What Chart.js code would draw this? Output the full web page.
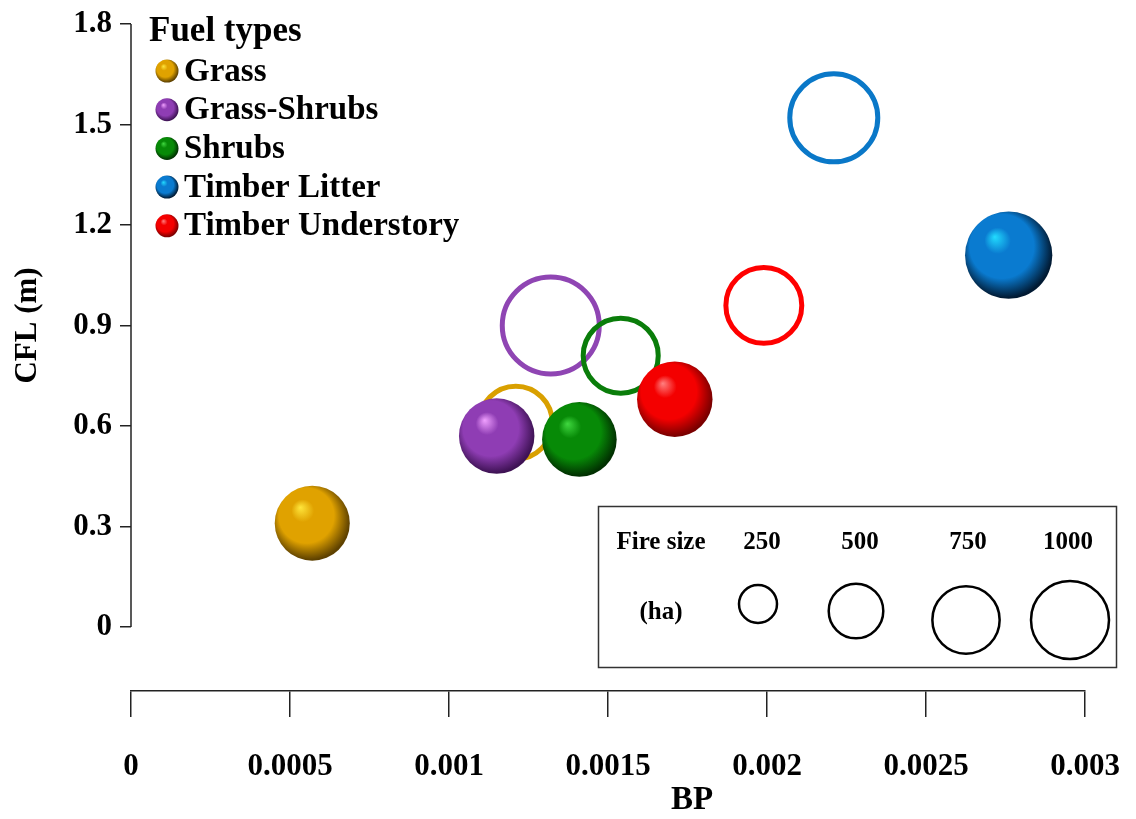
<!DOCTYPE html>
<html>
<head>
<meta charset="utf-8">
<title>CFL vs BP by fuel type</title>
<script src="https://cdn.jsdelivr.net/npm/chart.js@4.4.0/dist/chart.umd.min.js"></script>
<style>
  html, body { margin: 0; padding: 0; background: #fff; }
  canvas { display: block; }
</style>
</head>
<body>
<canvas id="chart" width="1136" height="819"></canvas>
<script>
const fuelTypes = ['Grass', 'Grass-Shrubs', 'Shrubs', 'Timber Litter', 'Timber Understory'];

// solid spheres
const bpSolid = [0.00057, 0.00115, 0.00141, 0.00276, 0.00171];
const cflSolid = [0.31, 0.57, 0.56, 1.11, 0.68];
const haSolid = [880, 890, 870, 1190, 890];

// open rings
const bpOpen = [0.00121, 0.00132, 0.00154, 0.00221, 0.00199];
const cflOpen = [0.61, 0.90, 0.81, 1.52, 0.96];
const haOpen = [830, 1470, 880, 1210, 900];

const xTicks = [0, 0.0005, 0.001, 0.0015, 0.002, 0.0025, 0.003];
const xTickLabels = ['0', '0.0005', '0.001', '0.0015', '0.002', '0.0025', '0.003'];
const yTicks = [0, 0.3, 0.6, 0.9, 1.2, 1.5, 1.8];
const yTickLabels = ['0', '0.3', '0.6', '0.9', '1.2', '1.5', '1.8'];
const sizeKey = [250, 500, 750, 1000];

const shades = {
  'Grass':             { light: '#ffe63c', base: '#e0a200', dark: '#5e4100', ring: '#d9a000' },
  'Grass-Shrubs':      { light: '#f0a0ff', base: '#8f3db4', dark: '#3e1254', ring: '#8f45b3' },
  'Shrubs':            { light: '#40d840', base: '#078a07', dark: '#013001', ring: '#0a7d0a' },
  'Timber Litter':     { light: '#22dcff', base: '#0a7bd0', dark: '#011a33', ring: '#0a78c8' },
  'Timber Understory': { light: '#ff8080', base: '#f40000', dark: '#7a0000', ring: '#ff0000' }
};

const FONT = '"Liberation Serif", "Times New Roman", serif';
const radiusFor = ha => 1.265 * Math.sqrt(ha);

function sphereFill(ctx, cx, cy, r, s) {
  if (![cx, cy, r].every(Number.isFinite) || r <= 0) return s.base;
  const g = ctx.createRadialGradient(cx - r * 0.32, cy - r * 0.42, 0, cx - r * 0.08, cy - r * 0.1, r * 1.08);
  g.addColorStop(0, s.light);
  g.addColorStop(0.28, s.base);
  g.addColorStop(0.68, s.base);
  g.addColorStop(1, s.dark);
  return g;
}

const solidPoints = fuelTypes.map((f, i) => ({ x: bpSolid[i], y: cflSolid[i], r: radiusFor(haSolid[i]) }));
const openPoints = fuelTypes.map((f, i) => ({ x: bpOpen[i], y: cflOpen[i], r: radiusFor(haOpen[i]) }));

const extras = {
  id: 'extras',
  beforeDatasetsDraw(chart) {
    const { ctx, chartArea, scales } = chart;
    ctx.save();
    // y axis line only spans 0..1.8
    ctx.strokeStyle = '#222';
    ctx.lineWidth = 1.5;
    ctx.beginPath();
    ctx.moveTo(chartArea.left, scales.y.getPixelForValue(yTicks[yTicks.length - 1]));
    ctx.lineTo(chartArea.left, scales.y.getPixelForValue(yTicks[0]));
    ctx.stroke();

    ctx.fillStyle = '#000';
    ctx.textAlign = 'center';
    ctx.textBaseline = 'middle';
    ctx.font = 'bold 33px ' + FONT;
    ctx.fillText('BP', 692, 800);

    ctx.translate(28, scales.y.getPixelForValue(0.9));
    ctx.rotate(-Math.PI / 2);
    ctx.font = 'bold 31px ' + FONT;
    ctx.fillText('CFL (m)', 0, 0);
    ctx.restore();
  },
  afterDraw(chart) {
    const ctx = chart.ctx;
    ctx.save();
    // fuel type legend
    ctx.fillStyle = '#000';
    ctx.textAlign = 'left';
    ctx.textBaseline = 'alphabetic';
    ctx.font = 'bold 35px ' + FONT;
    ctx.fillText('Fuel types', 149, 41);
    ctx.font = 'bold 33px ' + FONT;
    ctx.textBaseline = 'middle';
    fuelTypes.forEach((name, i) => {
      const cy = 71 + i * 38.7;
      ctx.beginPath();
      ctx.arc(167, cy, 11.5, 0, Math.PI * 2);
      ctx.fillStyle = sphereFill(ctx, 167, cy, 11.5, shades[name]);
      ctx.fill();
      ctx.fillStyle = '#000';
      ctx.fillText(name, 184, cy + 1);
    });

    // fire size key
    ctx.strokeStyle = '#333';
    ctx.lineWidth = 1.5;
    ctx.strokeRect(598.5, 506.5, 518, 161);
    ctx.textAlign = 'center';
    ctx.font = 'bold 25px ' + FONT;
    ctx.fillStyle = '#000';
    ctx.fillText('Fire size', 661, 543);
    ctx.fillText('(ha)', 661, 613);
    const labelX = [762, 860, 968, 1068];
    const ringX = [758, 856, 966, 1070];
    const ringY = [604, 611, 620, 620];
    ctx.strokeStyle = '#000';
    ctx.lineWidth = 2.5;
    sizeKey.forEach((ha, i) => {
      ctx.fillText(String(ha), labelX[i], 543);
      ctx.beginPath();
      ctx.arc(ringX[i], ringY[i], radiusFor(ha) - 1, 0, Math.PI * 2);
      ctx.stroke();
    });
    ctx.restore();
  }
};

const tickFont = { family: FONT, size: 31, weight: 'bold' };

new Chart(document.getElementById('chart'), {
  type: 'bubble',
  data: {
    datasets: [
      {
        label: 'solid',
        data: solidPoints,
        order: 0,
        clip: false,
        borderWidth: 0,
        backgroundColor: c => {
          const s = shades[fuelTypes[c.dataIndex]] || shades[fuelTypes[0]];
          if (c.type !== 'data' || !c.raw) return s.base;
          const sc = c.chart.scales;
          return sphereFill(c.chart.ctx, sc.x.getPixelForValue(c.raw.x), sc.y.getPixelForValue(c.raw.y),
            c.raw.r, s);
        }
      },
      {
        label: 'open',
        data: openPoints,
        order: 1,
        clip: false,
        borderWidth: 5,
        backgroundColor: 'rgba(0,0,0,0)',
        borderColor: fuelTypes.map(f => shades[f].ring)
      }
    ]
  },
  options: {
    responsive: false,
    animation: false,
    events: [],
    layout: { autoPadding: false, padding: { top: 24, right: 51, bottom: 0, left: 0 } },
    plugins: { legend: { display: false }, tooltip: { enabled: false } },
    scales: {
      x: {
        type: 'linear',
        min: xTicks[0],
        max: xTicks[xTicks.length - 1],
        afterBuildTicks: s => { s.ticks = xTicks.map(v => ({ value: v })); },
        afterFit: s => { s.height = 128; s.paddingLeft = 0; s.paddingRight = 0; },
        ticks: {
          callback: (v, i) => xTickLabels[i],
          font: tickFont, color: '#000', padding: 31,
          maxRotation: 0, autoSkip: false
        },
        grid: { drawOnChartArea: false, tickLength: 26, color: '#222', lineWidth: 1.5 },
        border: { display: true, color: '#222', width: 1.5 }
      },
      y: {
        type: 'linear',
        min: -0.191,
        max: yTicks[yTicks.length - 1],
        afterBuildTicks: s => { s.ticks = yTicks.map(v => ({ value: v })); },
        afterFit: s => { s.width = 131; s.paddingTop = 0; s.paddingBottom = 0; },
        ticks: {
          callback: (v, i) => yTickLabels[i],
          font: tickFont, color: '#000', padding: 8
        },
        grid: { drawOnChartArea: false, tickLength: 11, color: '#222', lineWidth: 1.5 },
        border: { display: false }
      }
    }
  },
  plugins: [extras]
});
</script>
</body>
</html>
